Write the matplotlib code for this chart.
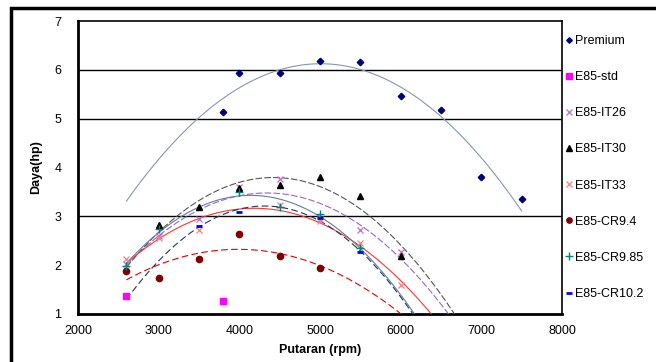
import numpy as np
import matplotlib
matplotlib.use("Agg")
import matplotlib.pyplot as plt
from matplotlib.patches import Rectangle

plt.rcParams['font.family'] = ['Liberation Sans', 'DejaVu Sans']

# ---- data ----
premium_x = [3800, 4000, 4500, 5000, 5500, 6000, 6500, 7000, 7500]
premium_y = [5.13, 5.94, 5.94, 6.19, 6.17, 5.47, 5.18, 3.81, 3.35]

std_x = [2600, 3800]
std_y = [1.37, 1.27]

it26_x = [2600, 3000, 3500, 4000, 4500, 5000, 5500, 6000]
it26_y = [2.02, 2.59, 2.94, 3.60, 3.77, 2.95, 2.71, 2.26]

it30_x = [3000, 3500, 4000, 4500, 5000, 5500, 6000]
it30_y = [2.83, 3.19, 3.57, 3.65, 3.81, 3.42, 2.19]

it33_x = [2600, 3000, 3500, 4500, 5000, 5500, 6000]
it33_y = [2.13, 2.55, 2.72, 3.24, 2.90, 2.45, 1.60]

cr94_x = [2600, 3000, 3500, 4000, 4500, 5000]
cr94_y = [1.89, 1.73, 2.12, 2.64, 2.19, 1.94]

cr985_x = [2600, 3000, 4000, 4500, 5000, 5500]
cr985_y = [1.98, 2.74, 3.49, 3.20, 3.05, 2.35]

cr102_x = [3500, 4000, 5000, 5500]
cr102_y = [2.81, 3.09, 2.96, 2.26]

labels = ["Premium", "E85-std", "E85-IT26", "E85-IT30", "E85-IT33",
          "E85-CR9.4", "E85-CR9.85", "E85-CR10.2"]
x_ticks = [2000, 3000, 4000, 5000, 6000, 7000, 8000]
y_ticks = [1, 2, 3, 4, 5, 6, 7]
grid_levels = [3, 5, 6]

W, H = 656, 362
fig = plt.figure(figsize=(W / 100, H / 100), dpi=100)
ax = fig.add_axes([78 / W, 1 - 314 / H, (562 - 78) / W, (314 - 21) / H])

for g in grid_levels:
    ax.axhline(g, color='black', lw=1.0, zorder=1)

series = [
    (premium_x, premium_y, dict(marker='D', ms=3.3, color='#000080', ls='none'),
     dict(color='#8497b0', lw=0.8, ls='-'), (min(std_x), max(premium_x))),
    (std_x, std_y, dict(marker='s', ms=4.5, color='#ff00ff', ls='none'), None, None),
    (it26_x, it26_y, dict(marker='x', ms=4.5, color='#cc66cc', mew=0.9, ls='none'),
     dict(color='#9966cc', lw=0.8, ls=(0, (6, 2))), (2600, 7000)),
    (it30_x, it30_y, dict(marker='^', ms=4.5, color='black', ls='none'),
     dict(color='#555555', lw=0.8, ls=(0, (6, 2))), (2600, 7000)),
    (it33_x, it33_y, dict(marker='x', ms=4.5, color='#ff7f7f', mew=0.9, ls='none'),
     dict(color='#ff3333', lw=0.8, ls='-'), (2600, 7000)),
    (cr94_x, cr94_y, dict(marker='o', ms=4.5, color='#800000', ls='none'),
     dict(color='#e00000', lw=0.8, ls=(0, (6, 3))), (2600, 7000)),
    (cr985_x, cr985_y, dict(marker='+', ms=6, color='#008080', mew=1.0, ls='none'),
     dict(color='#5f7fa0', lw=0.8, ls='-'), (2600, 7000)),
    (cr102_x, cr102_y, dict(marker='_', ms=5, color='#0000ff', mew=2, ls='none'),
     dict(color='#203864', lw=0.8, ls=(0, (6, 3))), (2600, 7000)),
]

handles = []
for (xs, ys, mk, tr, rng), lab in zip(series, labels):
    h, = ax.plot(xs, ys, label=lab, zorder=4, **mk)
    handles.append(h)
    if tr is not None:
        c = np.polyfit(xs, ys, 2)
        xx = np.linspace(rng[0], rng[1], 200)
        ax.plot(xx, np.polyval(c, xx), zorder=3, **tr)

ax.set_xlim(2000, 8000)
ax.set_ylim(1, 7)
ax.set_xticks(x_ticks)
ax.set_yticks(y_ticks)
ax.tick_params(length=0, labelsize=9)
ax.tick_params(axis='y', pad=12)
ax.tick_params(axis='x', pad=8)
for s in ['left', 'bottom']:
    ax.spines[s].set_linewidth(2)
for s in ['top', 'right']:
    ax.spines[s].set_linewidth(1.2)

ax.set_xlabel("Putaran (rpm)", fontsize=9, fontweight='bold', labelpad=5)
ax.set_ylabel("Daya(hp)", fontsize=9, fontweight='bold', labelpad=9)

ax.legend(handles=handles, loc='upper left', bbox_to_anchor=(1.0, 0.965),
          frameon=False, fontsize=9, labelspacing=1.93, handlelength=0.5,
          handletextpad=0.25, borderaxespad=0.0, borderpad=0.3, markerscale=0.85)

fig.add_artist(Rectangle((11 / W, -0.1), 1.2, 1.1 - 8 / H, transform=fig.transFigure,
                         fill=False, edgecolor='black', lw=2.5, clip_on=False))

fig.savefig("out.png", dpi=100)
